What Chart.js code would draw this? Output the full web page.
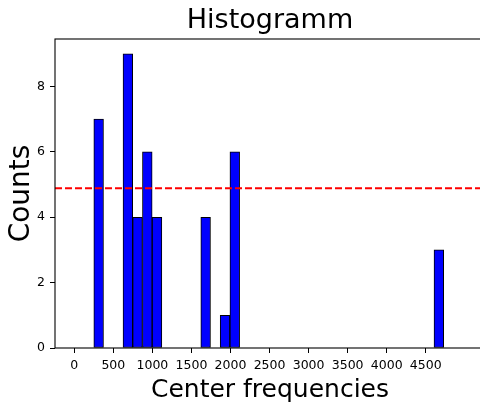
<!DOCTYPE html>
<html>
<head>
<meta charset="utf-8">
<script src="https://cdn.jsdelivr.net/npm/chart.js@4/dist/chart.umd.min.js"></script>
<style>
  html, body { margin: 0; padding: 0; background: #fff; }
  body { width: 480px; height: 408px; overflow: hidden; }
</style>
</head>
<body>
<canvas id="myChart" width="490" height="408"></canvas>
<script>
// histogram bins (center frequency of each non-empty bin) and counts
const binCenters = [312, 686, 810, 935, 1059, 1682, 1930, 2055, 4668];
const counts = [7, 9, 4, 6, 4, 4, 1, 6, 3];
const xTicks = [0, 500, 1000, 1500, 2000, 2500, 3000, 3500, 4000, 4500];
const yTicks = [0, 2, 4, 6, 8];

// axis limits
const xMin = -247;
const xMax = 5259;
const yMax = 9.45;

// dashed line = mean of the bin counts
const meanCount = counts.reduce((a, b) => a + b, 0) / counts.length;

const font = 'DejaVu Sans';

const spines = {
    id: 'spines',
    afterDraw(chart) {
        const { ctx, chartArea: a } = chart;
        ctx.save();
        ctx.strokeStyle = '#000';
        ctx.lineWidth = 1.1;
        ctx.strokeRect(a.left, a.top, a.right - a.left, a.bottom - a.top);
        ctx.restore();
    }
};

const ctx = document.getElementById('myChart').getContext('2d');
const chart = new Chart(ctx, {
    type: 'bar',
    data: {
        datasets: [{
            type: 'line',
            data: [{ x: xMin, y: meanCount }, { x: xMax, y: meanCount }],
            borderColor: '#ff0000',
            borderWidth: 2,
            borderDash: [7, 3],
            pointRadius: 0,
            order: 0
        }, {
            data: binCenters.map((c, i) => ({ x: c, y: counts[i] })),
            backgroundColor: '#0000ff',
            borderColor: '#000',
            borderWidth: 1,
            borderSkipped: false,
            barPercentage: 1,
            categoryPercentage: 1,
            order: 1
        }]
    },
    options: {
        responsive: false,
        animation: false,
        layout: { padding: { left: 0, right: 5, top: 0, bottom: 0 } },
        plugins: {
            legend: { display: false },
            tooltip: { enabled: false },
            title: {
                display: true,
                text: 'Histogramm',
                fullSize: false,
                color: '#000',
                font: { family: font, size: 27, weight: 'normal' },
                padding: { top: 5, bottom: 1.6 }
            }
        },
        scales: {
            x: {
                type: 'linear',
                min: xMin,
                max: xMax,
                offset: false,
                afterBuildTicks: s => { s.ticks = xTicks.map(v => ({ value: v })); },
                afterFit: s => { s.height = 60; },
                grid: { offset: false, drawOnChartArea: false, tickLength: 5, color: '#000' },
                border: { display: false },
                ticks: {
                    color: '#000',
                    padding: 5,
                    maxRotation: 0,
                    font: { family: font, size: 12.5 },
                    callback: v => String(v)
                },
                title: {
                    display: true,
                    text: 'Center frequencies',
                    color: '#000',
                    font: { family: font, size: 25 },
                    padding: { top: 0, bottom: 3 }
                }
            },
            y: {
                min: 0,
                max: yMax,
                afterBuildTicks: s => { s.ticks = yTicks.map(v => ({ value: v })); },
                afterFit: s => { s.width = 55; },
                grid: { drawOnChartArea: false, tickLength: 5, color: '#000' },
                border: { display: false },
                ticks: {
                    color: '#000',
                    padding: 5,
                    font: { family: font, size: 12.5 },
                    callback: v => String(v)
                },
                title: {
                    display: true,
                    text: 'Counts',
                    color: '#000',
                    font: { family: font, size: 28 },
                    padding: { top: 5, bottom: 0 }
                }
            }
        }
    },
    plugins: [spines]
});
</script>
</body>
</html>
